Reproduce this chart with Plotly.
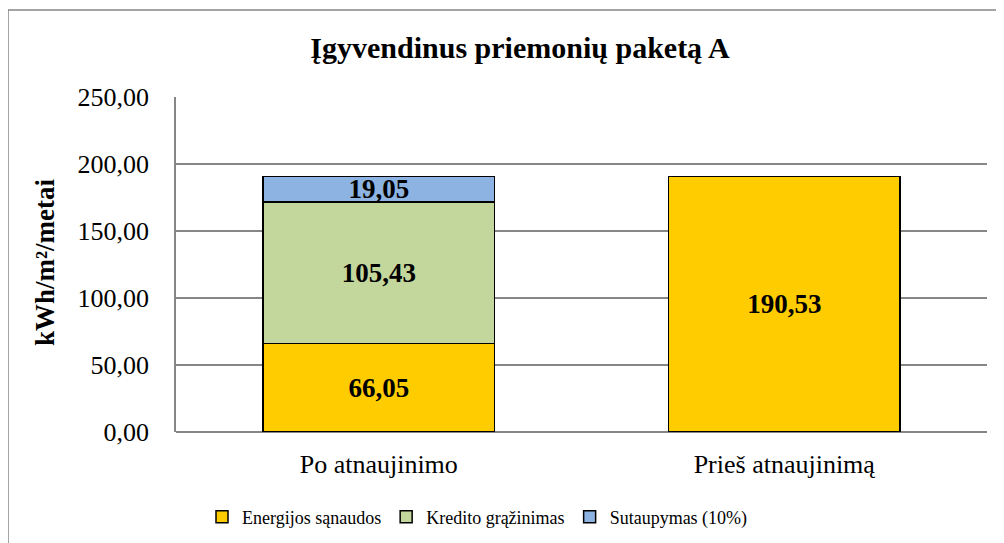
import plotly.graph_objects as go

categories = ["Po atnaujinimo", "Prieš atnaujinimą"]
energijos = [66.05, 190.53]
kredito = [105.43, None]
sutaupymas = [19.05, None]
series_names = ["Energijos sąnaudos", "Kredito grąžinimas", "Sutaupymas (10%)"]
colors = ["#FFCC00", "#C3D69B", "#8DB3E2"]
yticks = [0, 50, 100, 150, 200, 250]

FONT = "Liberation Serif, Times New Roman, serif"

fig = go.Figure()
for name, vals, col in zip(series_names, [energijos, kredito, sutaupymas], colors):
    fig.add_trace(go.Bar(
        x=categories, y=vals, name=name,
        marker=dict(color=col, line=dict(color="black", width=1.5)),
        texttemplate="<b>%{y:.2f}</b>", textposition="inside",
        insidetextanchor="middle", constraintext="none",
        textfont=dict(family=FONT, size=27, color="black"),
        width=0.572,
    ))

# page offset (body margin) compensation
OFF = 8
W, H = 1004, 543
# plot area in reference pixel coords
PL, PT, PR, PB = 176, 97, 987, 432
pw, ph = PR - PL, PB - PT
L, T = PL - OFF, PT - OFF
R = W - (PR - OFF)
B = H - (PB - OFF)


def px(x):
    return (x - PL) / pw


def py(y):
    return (PB - y) / ph


fig.update_layout(
    barmode="stack",
    width=W, height=H,
    margin=dict(l=L, r=R, t=T, b=B, autoexpand=False),
    paper_bgcolor="white", plot_bgcolor="white",
    separators=", ",
    font=dict(family=FONT, color="black"),
    title=dict(text="<b>Įgyvendinus priemonių paketą A</b>", x=px(520), xref="paper",
               xanchor="center", y=1 - (47 - OFF) / H, yanchor="middle",
               font=dict(family=FONT, size=30, color="black")),
    showlegend=True,
    legend=dict(orientation="h", x=px(202), xanchor="left", y=py(517), yanchor="middle",
                font=dict(family=FONT, size=18, color="black"), traceorder="normal",
                itemwidth=30, bgcolor="rgba(0,0,0,0)"),
    xaxis=dict(showgrid=False, showline=False, ticks="", tickfont=dict(family=FONT, size=26),
               zeroline=False, ticklabelstandoff=14),
    yaxis=dict(range=[0, 250], tickvals=yticks, tickformat=".2f", showgrid=True,
               gridcolor="#868686", gridwidth=1.5, showline=True, linecolor="#868686",
               linewidth=1.5, zeroline=True, zerolinecolor="#868686", zerolinewidth=1.5,
               tickfont=dict(family=FONT, size=26), ticklabelstandoff=20),
)

fig.add_annotation(text="<b>kWh/m²/metai</b>", x=px(45), y=py(262), xref="paper", yref="paper",
                   textangle=-90, showarrow=False, xanchor="center", yanchor="middle",
                   font=dict(family=FONT, size=27, color="black"))

fig.add_shape(type="rect", xref="paper", yref="paper",
              x0=px(8), x1=px(1040), y0=py(580), y1=py(10),
              line=dict(color="#868686", width=1.5), fillcolor="rgba(0,0,0,0)", layer="below")

fig.write_html("out.html")
